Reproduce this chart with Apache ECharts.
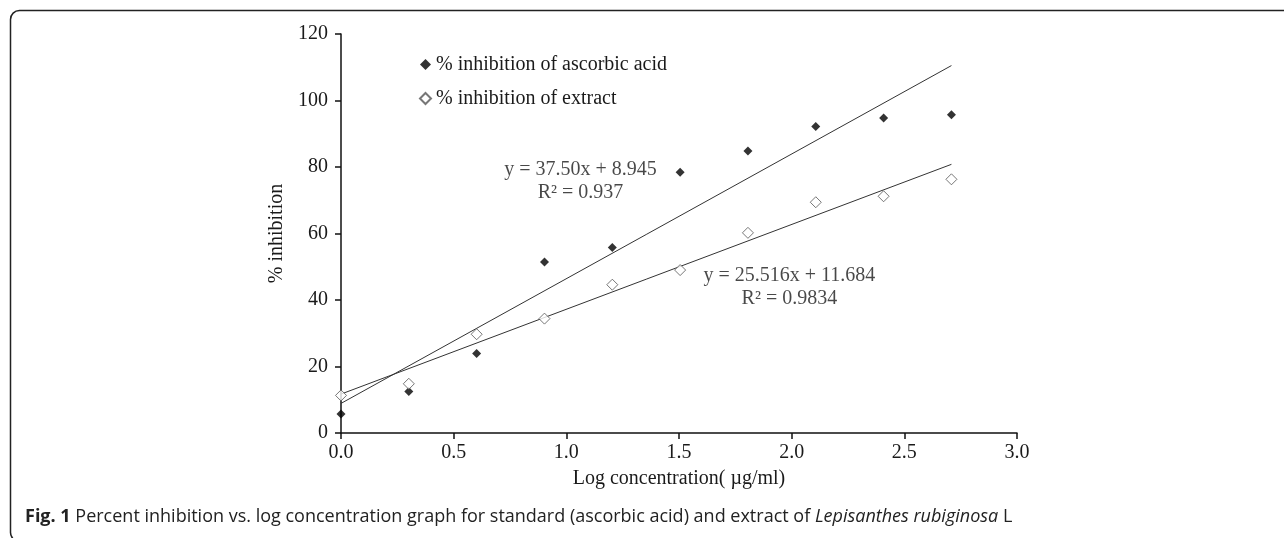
<!DOCTYPE html>
<html>
<head>
<meta charset="utf-8">
<script src="https://cdn.jsdelivr.net/npm/echarts@6/dist/echarts.min.js"></script>
<style>
  html, body { margin: 0; padding: 0; background: #fff; }
  #chart { width: 1284px; height: 538px; }
</style>
</head>
<body>
<div id="chart"></div>
<script>
// log concentration
var logConc = [0, 0.301, 0.602, 0.903, 1.204, 1.505, 1.806, 2.107, 2.408, 2.709];
// % inhibition
var ascorbic = [5.7, 12.5, 23.9, 51.4, 55.8, 78.4, 84.8, 92.2, 94.7, 95.7];
var extract = [11.3, 14.8, 29.7, 34.4, 44.6, 49.0, 60.2, 69.4, 71.2, 76.3];
// linear trendlines (end points)
var ascorbicFit = [[0, 8.9], [2.709, 110.5]];
var extractFit = [[0, 11.7], [2.709, 80.8]];
var xTicks = [0, 0.5, 1.0, 1.5, 2.0, 2.5, 3.0];
var yTicks = [0, 20, 40, 60, 80, 100, 120];

var serif = '"Liberation Serif", "Times New Roman", serif';
var sans = '"Open Sans", "Noto Sans", sans-serif';
var txt = '#1a1a1a';

function pairs(xs, ys) {
  return xs.map(function (x, i) { return [x, ys[i]]; });
}

var chart = echarts.init(document.getElementById('chart'));
chart.setOption({
  animation: false,
  backgroundColor: '#fff',
  textStyle: { fontFamily: serif, color: txt },
  grid: { left: 341, right: 267, top: 34, bottom: 105, containLabel: false },
  legend: {
    data: ['% inhibition of ascorbic acid', '% inhibition of extract'],
    orient: 'vertical',
    left: 414,
    top: 49,
    itemWidth: 11,
    itemHeight: 11,
    itemGap: 13,
    textStyle: { fontFamily: serif, fontSize: 20, color: txt, lineHeight: 21 }
  },
  xAxis: {
    type: 'value',
    min: xTicks[0],
    max: xTicks[xTicks.length - 1],
    interval: 0.5,
    name: 'Log concentration( µg/ml)',
    nameLocation: 'middle',
    nameGap: 36,
    nameTextStyle: { fontFamily: serif, fontSize: 20, color: txt },
    axisLine: { lineStyle: { color: '#111', width: 1.5 } },
    axisTick: { inside: false, length: 6, lineStyle: { color: '#111', width: 1.5 } },
    axisLabel: { fontSize: 20, color: txt, margin: 10, formatter: function (v) { return v.toFixed(1); } },
    splitLine: { show: false }
  },
  yAxis: {
    type: 'value',
    min: yTicks[0],
    max: yTicks[yTicks.length - 1],
    interval: 20,
    name: '% inhibition',
    nameLocation: 'middle',
    nameGap: 44,
    nameTextStyle: { fontFamily: serif, fontSize: 20, color: txt },
    axisLine: { show: true, lineStyle: { color: '#111', width: 1.5 } },
    axisTick: { show: true, inside: false, length: 6, lineStyle: { color: '#111', width: 1.5 } },
    axisLabel: { fontSize: 20, color: txt, margin: 13 },
    splitLine: { show: false }
  },
  series: [
    {
      name: 'ascorbic fit',
      type: 'line',
      data: ascorbicFit,
      symbol: 'none',
      lineStyle: { color: '#333', width: 1 },
      z: 1
    },
    {
      name: 'extract fit',
      type: 'line',
      data: extractFit,
      symbol: 'none',
      lineStyle: { color: '#333', width: 1 },
      z: 1
    },
    {
      name: '% inhibition of ascorbic acid',
      type: 'scatter',
      data: pairs(logConc, ascorbic),
      symbol: 'diamond',
      symbolSize: 9,
      itemStyle: { color: '#000' },
      z: 3
    },
    {
      name: '% inhibition of extract',
      type: 'scatter',
      data: pairs(logConc, extract),
      symbol: 'diamond',
      symbolSize: 11,
      itemStyle: { color: '#fff', borderColor: '#555', borderWidth: 1 },
      z: 3
    },
    {
      name: 'equations',
      type: 'scatter',
      symbolSize: 0,
      silent: true,
      data: [
        { value: [1.063, 75.7], label: { formatter: 'y = 37.50x + 8.945\nR² = 0.937' } },
        { value: [1.99, 43.9], label: { formatter: 'y = 25.516x + 11.684\nR² = 0.9834' } }
      ],
      label: {
        show: true,
        position: 'inside',
        align: 'center',
        fontFamily: serif,
        fontSize: 20,
        lineHeight: 23,
        color: txt
      },
      z: 4
    }
  ],
  graphic: [
    {
      type: 'rect',
      shape: { x: 10.5, y: 10.5, width: 1300, height: 531, r: 9 },
      style: { fill: null, stroke: '#222', lineWidth: 1.5 },
      silent: true
    },
    {
      type: 'text',
      left: 25,
      top: 508,
      style: {
        text: '{b|Fig. 1} Percent inhibition vs. log concentration graph for standard (ascorbic acid) and extract of {i|Lepisanthes rubiginosa} L',
        fontFamily: sans,
        fontSize: 18,
        fill: '#222',
        rich: {
          b: { fontFamily: sans, fontSize: 18, fontWeight: 'bold', fill: '#222' },
          i: { fontFamily: sans, fontSize: 18, fontStyle: 'italic', fill: '#222' }
        }
      }
    }
  ]
});
</script>
</body>
</html>
